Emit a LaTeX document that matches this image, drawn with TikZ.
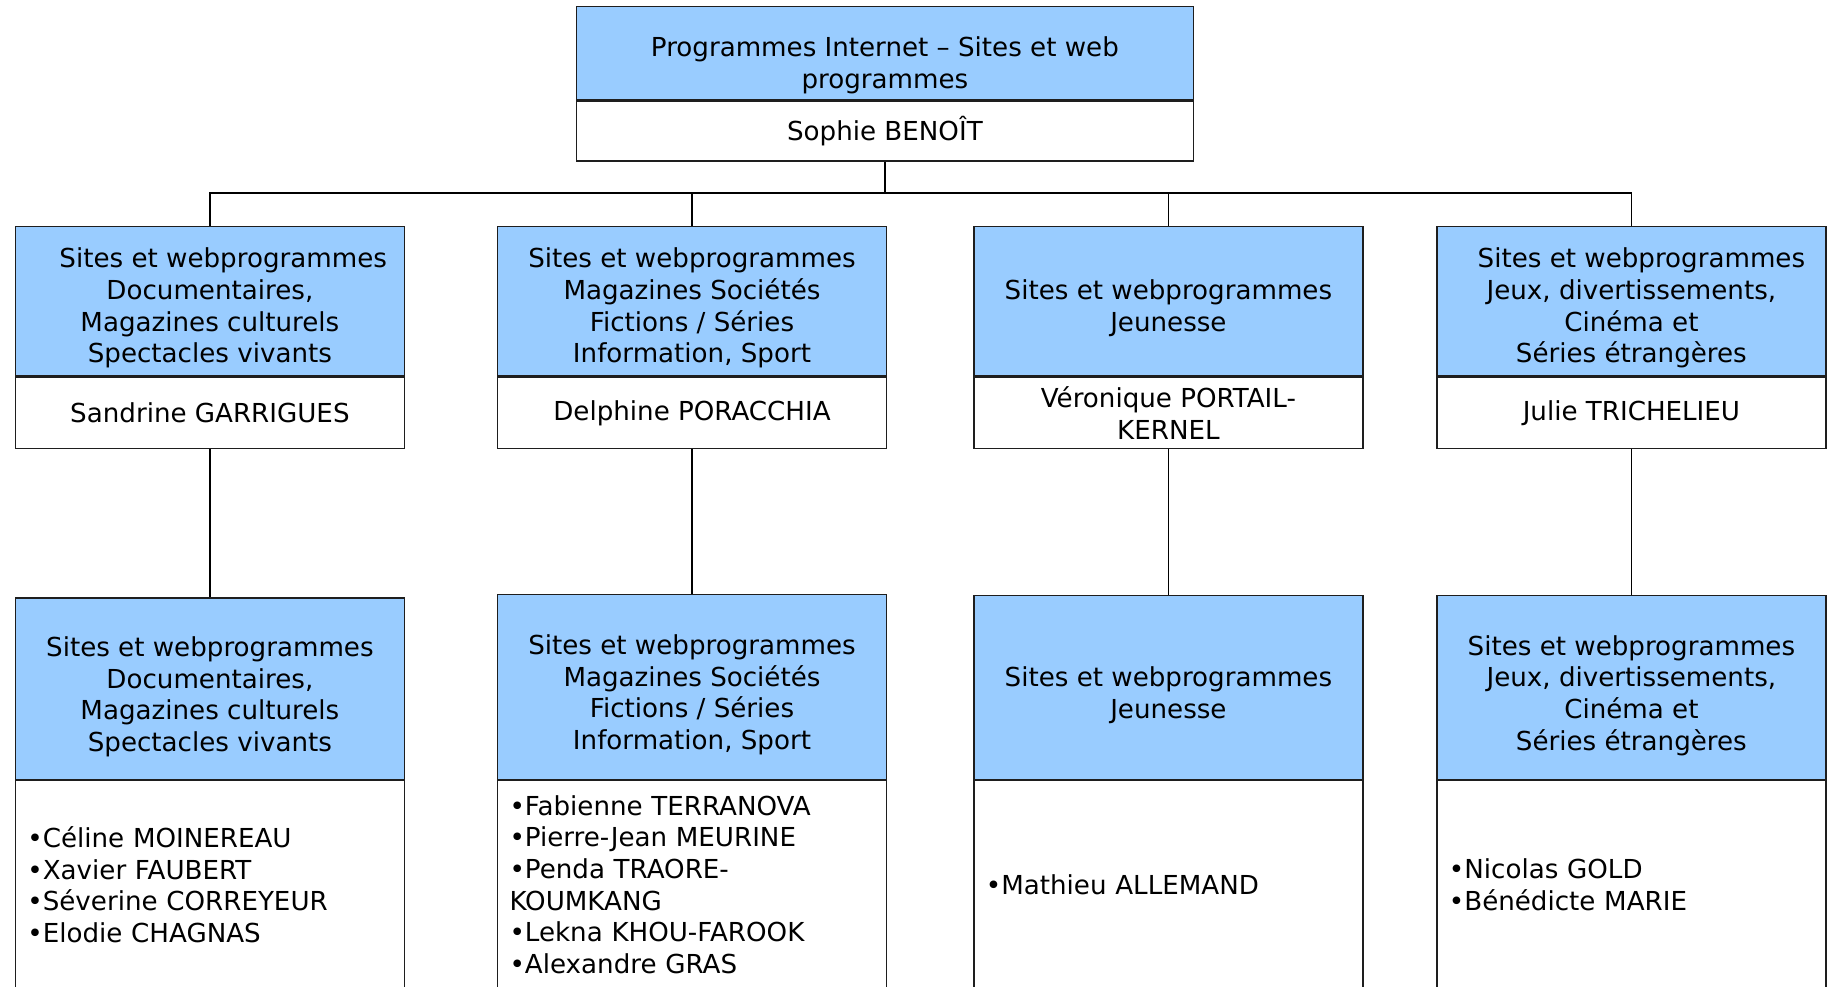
\documentclass[tikz,border=0pt]{standalone}
\usepackage{fontspec}
\setmainfont{DejaVu Sans}
\newlength{\px}
\setlength{\px}{0.75pt}
\definecolor{hdrblue}{RGB}{153,204,255}
\definecolor{edge}{RGB}{30,30,30}
\tikzset{
  txt/.style={font={\fontsize{19.6}{23.7}\selectfont}, text=black},
  hdr/.style={draw=edge, line width=1pt, fill=hdrblue, inner sep=0pt,
              minimum width=389\px, anchor=north},
  hdrtxt/.style={txt, align=center, inner sep=0pt},
  namebox/.style={txt, draw=edge, line width=1pt, fill=white, align=center, inner sep=0pt,
              minimum width=389\px, minimum height=71.3\px, anchor=north},
  listbox/.style={txt, draw=edge, line width=1pt, fill=white, align=left, inner xsep=12\px, inner ysep=0pt,
              text width=365\px, minimum height=208\px, anchor=north},
  conn/.style={draw=black, line width=1pt},
}
\begin{document}
\begin{tikzpicture}[x=0.75pt,y=-0.75pt]
\useasboundingbox (0,0) rectangle (1833,986);
\clip (0,0) rectangle (1833,986);
\fill[white] (0,0) rectangle (1833,986);

% top
\node[hdr, minimum width=617.2\px, minimum height=93.6\px] (th) at (884.9,5.8) {};
\node[hdrtxt] (tht) at ([yshift=-12\px]th.center) {Programmes Internet -- Sites et web\\programmes};
\node[namebox, minimum width=617.2\px, minimum height=59.6\px] (tn) at (th.south) {Sophie BENOÎT};

% level 1
\node[hdr, minimum height=149.7\px] (a1h) at (209.9,225.6) {};
\node[hdrtxt] (a1t) at ([yshift=-7\px]a1h.center)
  {\hspace*{20pt}Sites et webprogrammes\\Documentaires,\\Magazines culturels\\Spectacles vivants};
\node[namebox] (a1n) at (a1h.south) {Sandrine GARRIGUES};

\node[hdr, minimum height=149.7\px] (b1h) at (692,225.6) {};
\node[hdrtxt] (b1t) at ([yshift=-7\px]b1h.center)
  {Sites et webprogrammes\\Magazines Sociétés\\Fictions / Séries\\Information, Sport};
\node[namebox] (b1n) at (b1h.south) {Delphine PORACCHIA};

\node[hdr, minimum height=149.7\px] (c1h) at (1168.4,225.6) {};
\node[hdrtxt] (c1t) at ([yshift=-7\px]c1h.center) {Sites et webprogrammes\\Jeunesse};
\node[namebox] (c1n) at (c1h.south) {Véronique PORTAIL-\\KERNEL};

\node[hdr, minimum height=149.7\px] (d1h) at (1631.4,225.6) {};
\node[hdrtxt] (d1t) at ([yshift=-7\px]d1h.center)
  {\hspace*{15pt}Sites et webprogrammes\\Jeux, divertissements,\\Cinéma et\\Séries étrangères};
\node[namebox] (d1n) at (d1h.south) {Julie TRICHELIEU};

% level 2
\node[hdr, minimum height=181.2\px] (a2h) at (209.9,597.4) {};
\node[hdrtxt] (a2t) at ([yshift=-8\px]a2h.center)
  {Sites et webprogrammes\\Documentaires,\\Magazines culturels\\Spectacles vivants};
\node[listbox] (a2n) at (a2h.south)
  {•Céline MOINEREAU\\•Xavier FAUBERT\\•Séverine CORREYEUR\\•Elodie CHAGNAS};

\node[hdr, minimum height=184.6\px] (b2h) at (692,594) {};
\node[hdrtxt] (b2t) at ([yshift=-8\px]b2h.center)
  {Sites et webprogrammes\\Magazines Sociétés\\Fictions / Séries\\Information, Sport};
\node[listbox] (b2n) at (b2h.south)
  {•Fabienne TERRANOVA\\•Pierre-Jean MEURINE\\•Penda TRAORE-\\KOUMKANG\\•Lekna KHOU-FAROOK\\•Alexandre GRAS};

\node[hdr, minimum height=183.6\px] (c2h) at (1168.4,595) {};
\node[hdrtxt] (c2t) at ([yshift=-8\px]c2h.center) {Sites et webprogrammes\\Jeunesse};
\node[listbox] (c2n) at (c2h.south) {•Mathieu ALLEMAND};

\node[hdr, minimum height=183.6\px] (d2h) at (1631.4,595) {};
\node[hdrtxt] (d2t) at ([yshift=-8\px]d2h.center)
  {Sites et webprogrammes\\Jeux, divertissements,\\Cinéma et\\Séries étrangères};
\node[listbox] (d2n) at (d2h.south) {•Nicolas GOLD\\•Bénédicte MARIE};

% connectors
\coordinate (bus) at (884.9,192.9);
\draw[conn, line width=1.6pt] (tn.south) -- (bus);
\draw[conn] (a1h.north) |- (bus) -| (d1h.north);
\draw[conn] (b1h.north) -- (b1h.north |- bus);
\draw[conn] (c1h.north) -- (c1h.north |- bus);
\draw[conn] (a1n.south) -- (a2h.north);
\draw[conn] (b1n.south) -- (b2h.north);
\draw[conn] (c1n.south) -- (c2h.north);
\draw[conn] (d1n.south) -- (d2h.north);
\end{tikzpicture}
\end{document}
